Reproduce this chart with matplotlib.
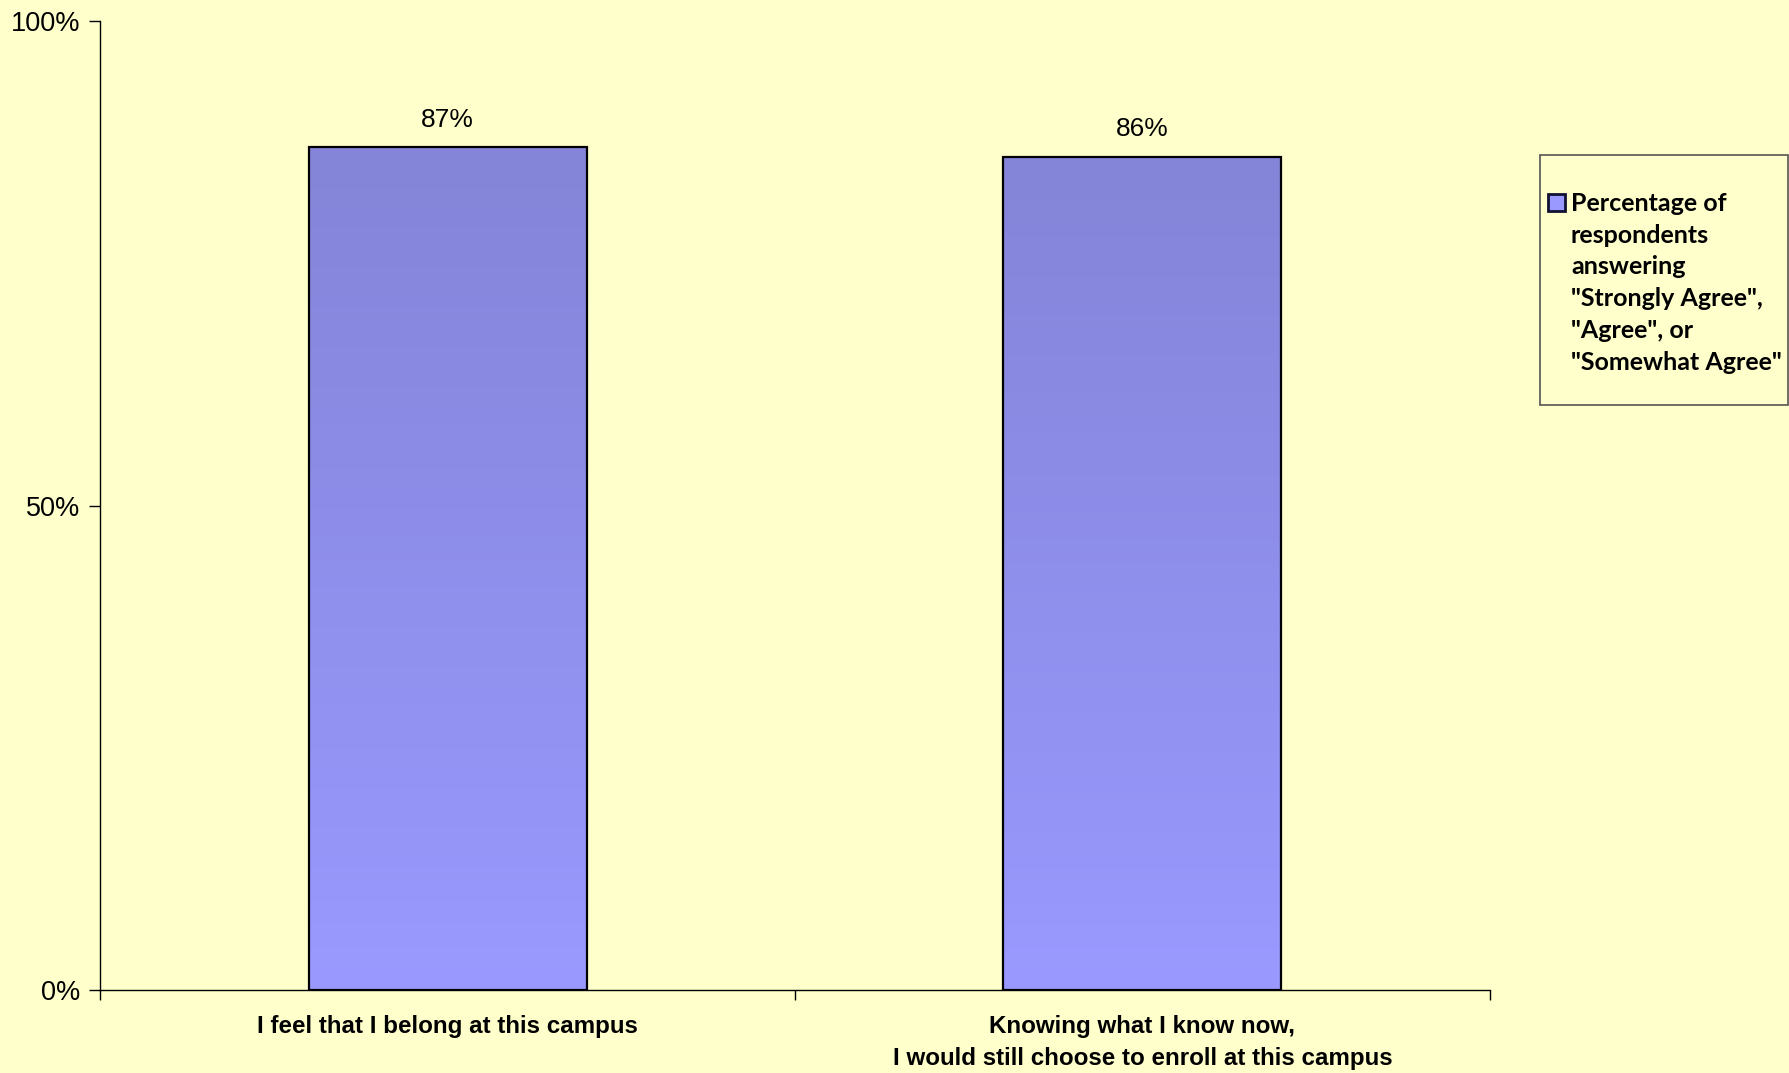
import matplotlib.pyplot as plt
import numpy as np
from matplotlib.patches import Rectangle

categories = ["I feel that I belong at this campus",
              "Knowing what I know now,\nI would still choose to enroll at this campus"]
values = [87, 86]
value_labels = ["87%", "86%"]
yticks = [0, 50, 100]
ytick_labels = ["0%", "50%", "100%"]
legend_label = ('Percentage of\nrespondents\nanswering\n"Strongly Agree",\n'
                '"Agree", or\n"Somewhat Agree"')

bg = "#ffffcc"
top_col = np.array([0x84, 0x84, 0xd8]) / 255
bot_col = np.array([0x99, 0x99, 0xff]) / 255

fig = plt.figure(figsize=(17.89, 10.73), dpi=100, facecolor=bg)
ax = fig.add_axes([100 / 1789, 1 - 990 / 1073, 1390 / 1789, 969 / 1073])
ax.set_facecolor(bg)

x = np.arange(len(categories))
bars = ax.bar(x, values, width=0.4, color="none", edgecolor="black", linewidth=1.6, zorder=3)

# vertical gradient inside each bar
grad = np.linspace(0, 1, 256)[:, None, None]
img = bot_col * (1 - grad) + top_col * grad
for b in bars:
    x0, w, h = b.get_x(), b.get_width(), b.get_height()
    ax.imshow(img, extent=[x0, x0 + w, 0, h], origin="lower", aspect="auto", zorder=2)

for b, lab in zip(bars, value_labels):
    ax.annotate(lab, (b.get_x() + b.get_width() / 2, b.get_height()),
                xytext=(0, 11), textcoords="offset points", ha="center", va="bottom",
                fontsize=19, family="Liberation Sans")

ax.set_xlim(-0.5, len(categories) - 0.5)
ax.set_ylim(0, 100)
ax.set_yticks(yticks)
ax.set_yticklabels(ytick_labels, fontsize=19.5, family="Liberation Sans")
ax.set_xticks(x)
ax.set_xticklabels(categories, fontsize=17.4, fontweight="bold", family="Liberation Sans",
                   linespacing=1.5)
ax.tick_params(axis="x", length=0, pad=18)
ax.set_xticks(np.arange(-0.5, len(categories)), minor=True)
ax.tick_params(axis="x", which="minor", length=7, width=1)
ax.tick_params(axis="y", length=8, width=1, pad=6)
for s in ["top", "right"]:
    ax.spines[s].set_visible(False)
for s in ["left", "bottom"]:
    ax.spines[s].set_linewidth(1)

# legend box
fig.patches.append(Rectangle((1540 / 1789, 1 - 405 / 1073), 248 / 1789, 250 / 1073,
                             transform=fig.transFigure, facecolor=bg, edgecolor="#555555",
                             linewidth=1.2))
fig.patches.append(Rectangle((1548 / 1789, 1 - 211 / 1073), 17 / 1789, 17 / 1073,
                             transform=fig.transFigure, facecolor=bot_col, edgecolor="#111133",
                             linewidth=2))
fig.text(1571 / 1789, 1 - 192 / 1073, legend_label, fontsize=18, fontweight="bold",
         family="Lato", va="top", ha="left", linespacing=1.46)

fig.savefig("out.png", dpi=100, facecolor=bg)
